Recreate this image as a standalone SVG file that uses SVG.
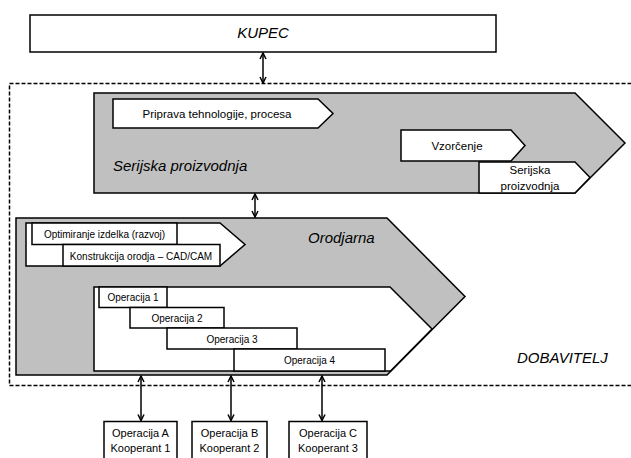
<svg xmlns="http://www.w3.org/2000/svg" width="631" height="458" viewBox="0 0 631 458">
  <defs>
    <marker id="tip" viewBox="0 0 8 8" refX="7" refY="4" markerWidth="8" markerHeight="8" markerUnits="userSpaceOnUse" orient="auto-start-reverse">
      <path d="M1,1 L7,4 L1,7" fill="none" stroke="#000" stroke-width="1.5"/>
    </marker>
  </defs>
  <style>
    .box { fill: #fff; stroke: #000; stroke-width: 1.5; }
    .gray { fill: #c0c0c0; stroke: #000; stroke-width: 1.5; }
    .dash { fill: none; stroke: #000; stroke-width: 1.5; stroke-dasharray: 4 2; }
    .link { fill: none; stroke: #000; stroke-width: 1.5; marker-start: url(#tip); marker-end: url(#tip); }
    text { font-family: "Liberation Sans", Arial, sans-serif; fill: #000; }
    .title { font-style: italic; font-size: 15px; }
    .lbl { font-size: 11.5px; text-anchor: middle; }
    .sm { font-size: 10px; text-anchor: middle; }
    .ext { font-size: 11px; text-anchor: middle; }
  </style>

  <rect x="0" y="0" width="631" height="458" fill="#fff"/>

  <!-- supplier boundary -->
  <g id="dobavitelj">
    <rect class="dash" x="9.5" y="83.5" width="640" height="302"/>
    <text class="title" x="517" y="363">DOBAVITELJ</text>
  </g>

  <!-- customer -->
  <g id="kupec">
    <rect class="box" x="30" y="15" width="466" height="37"/>
    <text class="title" x="263" y="38" text-anchor="middle" font-size="12.5">KUPEC</text>
  </g>

  <!-- series production phase -->
  <g id="serijska">
    <polygon class="gray" points="94,93 575,93 625,143 575,193 94,193"/>
    <text class="title" x="113" y="171">Serijska proizvodnja</text>
  </g>
  <g id="priprava">
    <polygon class="box" points="113,99 318,99 333,113.5 318,128 113,128"/>
    <text class="lbl" x="217" y="117.5">Priprava tehnologije, procesa</text>
  </g>
  <g id="vzorcenje">
    <polygon class="box" points="401,130 511,130 525,145.5 511,161 401,161"/>
    <text class="lbl" x="457" y="149.5" font-size="12">Vzorčenje</text>
  </g>
  <g id="serijska-proizvodnja">
    <polygon class="box" points="479,162 575,162 590,177.5 575,193 479,193"/>
    <text class="lbl" x="530" y="174">Serijska</text>
    <text class="lbl" x="530" y="189.5">proizvodnja</text>
  </g>

  <!-- tool shop phase -->
  <g id="orodjarna">
    <polygon class="gray" points="16,218 387,218 465,296.5 387,375 16,375"/>
    <text class="title" x="308" y="243" font-size="15.5">Orodjarna</text>
  </g>
  <g id="razvoj">
    <polygon class="box" points="26,223 220,223 245,244.5 220,266 26,266"/>
    <rect class="box" x="32" y="223" width="145" height="21.5"/>
    <rect class="box" x="63" y="244.5" width="157" height="21.5"/>
    <text class="sm" x="104.5" y="238" font-size="9.5">Optimiranje izdelka (razvoj)</text>
    <text class="sm" x="141" y="259.5" font-size="9.5">Konstrukcija orodja – CAD/CAM</text>
  </g>
  <g id="operacije">
    <polygon class="box" points="94,287 390,287 432,329 390.5,371 94,371"/>
    <rect class="box" x="99" y="287" width="68" height="20.5"/>
    <rect class="box" x="130" y="307.5" width="94" height="20.5"/>
    <rect class="box" x="167" y="328" width="130" height="21"/>
    <rect class="box" x="234" y="349" width="151" height="22"/>
    <text class="sm" x="133" y="301">Operacija 1</text>
    <text class="sm" x="177" y="321.5">Operacija 2</text>
    <text class="sm" x="232" y="342.5">Operacija 3</text>
    <text class="sm" x="309.5" y="363.5">Operacija 4</text>
  </g>

  <!-- subcontractors -->
  <g id="kooperant-1">
    <rect class="box" x="104" y="421.5" width="73" height="45"/>
    <text class="ext" x="140.5" y="437">Operacija A</text>
    <text class="ext" x="140.5" y="452">Kooperant 1</text>
  </g>
  <g id="kooperant-2">
    <rect class="box" x="192" y="421.5" width="75" height="45"/>
    <text class="ext" x="229.5" y="437">Operacija B</text>
    <text class="ext" x="229.5" y="452">Kooperant 2</text>
  </g>
  <g id="kooperant-3">
    <rect class="box" x="289" y="421.5" width="78" height="45"/>
    <text class="ext" x="328" y="437">Operacija C</text>
    <text class="ext" x="328" y="452">Kooperant 3</text>
  </g>

  <!-- connectors -->
  <g id="connectors">
    <line class="link" x1="263" y1="53" x2="263" y2="83"/>
    <line class="link" x1="255" y1="194" x2="255" y2="217"/>
    <line class="link" x1="141" y1="376" x2="141" y2="420.5"/>
    <line class="link" x1="231" y1="376" x2="231" y2="420.5"/>
    <line class="link" x1="322" y1="376" x2="322" y2="420.5"/>
  </g>
</svg>
